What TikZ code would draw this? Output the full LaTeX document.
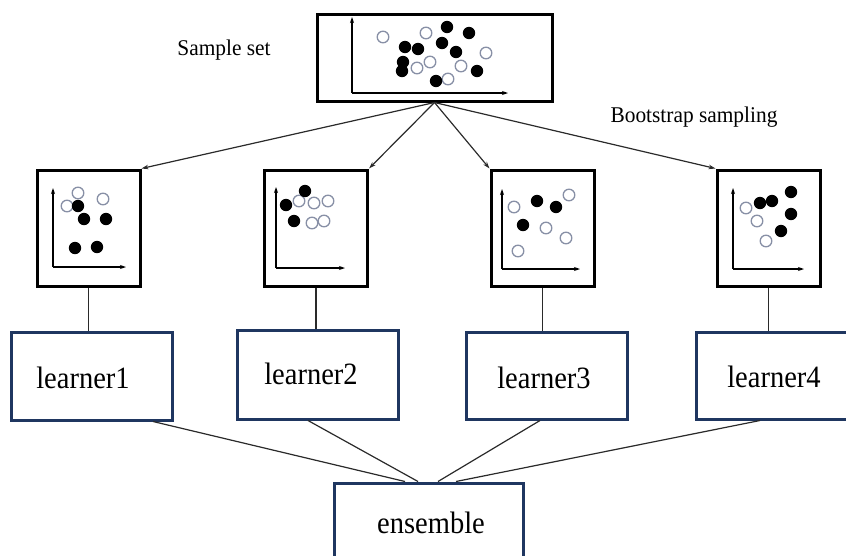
\documentclass[tikz,border=0pt]{standalone}
\usepackage{fontspec}
\setmainfont{Liberation Serif}
\newfontfamily\condserif[FakeStretch=0.92]{Liberation Serif}
\newfontfamily\semiserif[FakeStretch=0.95]{Liberation Serif}
\usetikzlibrary{arrows.meta,calc}
\definecolor{navy}{HTML}{1F3660}
\definecolor{ringc}{HTML}{8890A6}
\definecolor{linec}{HTML}{2A2A2A}
\begin{document}
\begin{tikzpicture}[x=1pt,y=-1pt,
  plotbox/.style={draw=black,line width=3pt,minimum width=103pt,minimum height=116pt,inner sep=0pt},
  topbox/.style={draw=black,line width=3pt,minimum width=235pt,minimum height=87pt,inner sep=0pt},
  learnbox/.style={draw=navy,line width=3pt,minimum width=161pt,minimum height=88pt,inner sep=0pt},
  bigtext/.style={font=\condserif\fontsize{31}{36}\selectfont,inner sep=0pt,anchor=base},
  smalltext/.style={font=\semiserif\fontsize{22.5}{27}\selectfont,inner sep=0pt,anchor=base},
  conn/.style={draw=linec,line width=1.2pt},
  axis/.style={draw=black,line width=1.1pt,-{Stealth[length=6pt,width=4pt]}},
  ring/.style={draw=ringc,line width=1.3pt},
  arr/.style={conn,-{Stealth[length=7pt,width=4.5pt]}}
]
\useasboundingbox (0,0) rectangle (846,555);

% boxes
\node[topbox] (top) at (434.5,57.5) {};
\node[plotbox] (b1) at (88.5,228) {};
\node[plotbox] (b2) at (316,228) {};
\node[plotbox] (b3) at (542.5,228) {};
\node[plotbox] (b4) at (768.5,228) {};
\node[learnbox] (L1) at (92,376) {};
\node[learnbox,minimum height=89pt] (L2) at (317.5,374.5) {};
\node[learnbox,minimum height=87pt] (L3) at (546.5,375.5) {};
\node[learnbox,minimum width=156pt,minimum height=87pt] (L4) at (774,375.5) {};
\node[learnbox,minimum width=189pt,minimum height=84pt] (E) at (428.5,525) {};

% texts
\node[smalltext] (ts) at (224,55) {Sample set};
\node[smalltext] (tb) at (694,122) {Bootstrap sampling};
\node[bigtext] (t1) at (83,388) {learner1};
\node[bigtext] (t2) at (311,384) {learner2};
\node[bigtext] (t3) at (544,388) {learner3};
\node[bigtext] (t4) at (774,387) {learner4};
\node[bigtext] (te) at (431,533) {ensemble};

% axes
\draw[axis] (352,93) -- (352,17);
\draw[axis] (352,93) -- (508,93);
\draw[axis] (53,267) -- (53,188);
\draw[axis] (53,267) -- (126,267);
\draw[axis] (276,268) -- (276,187);
\draw[axis] (276,268) -- (345,268);
\draw[axis] (502,269) -- (502,189);
\draw[axis] (502,269) -- (580,269);
\draw[axis] (733,269) -- (733,188);
\draw[axis] (733,269) -- (804,269);

% dots: sample set
\foreach \px/\py in {383/37,426/33,486/53,430/62,417/68,461/66,448/79}
  \draw[ring] (\px,\py) circle (5.8pt);
\foreach \px/\py in {447/27,469/33,405/47,418/49,442/43,456/52,403/62,402/71,477/71,436/81}
  \fill (\px,\py) circle (6.2pt);
% dots: box 1
\foreach \px/\py in {78/193,67/206,103/199}
  \draw[ring] (\px,\py) circle (5.8pt);
\foreach \px/\py in {78/206,84/219,106/219,75/248,97/247}
  \fill (\px,\py) circle (6.2pt);
% dots: box 2
\foreach \px/\py in {299/201,314/203,328/201,312/223,324/221}
  \draw[ring] (\px,\py) circle (5.8pt);
\foreach \px/\py in {305/191,286/205,294/221}
  \fill (\px,\py) circle (6.2pt);
% dots: box 3
\foreach \px/\py in {514/207,569/195,546/228,566/238,518/251}
  \draw[ring] (\px,\py) circle (5.8pt);
\foreach \px/\py in {537/201,556/207,523/225}
  \fill (\px,\py) circle (6.2pt);
% dots: box 4
\foreach \px/\py in {746/208,757/221,766/241}
  \draw[ring] (\px,\py) circle (5.8pt);
\foreach \px/\py in {760/203,772/201,791/192,791/214,781/231}
  \fill (\px,\py) circle (6.2pt);

% bootstrap arrows
\draw[arr] (top.south) -- (b1.north east);
\draw[arr] (top.south) -- (b2.north east);
\draw[arr] (top.south) -- (b3.north west);
\draw[arr] (top.south) -- (b4.north west);

% plot to learner
\draw[conn] (b1.south) -- (b1.south |- L1.north);
\draw[conn] (b2.south) -- (b2.south |- L2.north);
\draw[conn] (b3.south) -- (b3.south |- L3.north);
\draw[conn] (b4.south) -- (b4.south |- L4.north);

% learner to ensemble
\draw[conn] ($(L1.south)+(61,0)$) -- ($(E.north)+(-23.5,0)$);
\draw[conn] ($(L2.south)+(-9.5,0)$) -- ($(E.north)+(-10.5,0)$);
\draw[conn] ($(L3.south)+(-6.5,0)$) -- ($(E.north)+(9.5,0)$);
\draw[conn] ($(L4.south)+(-14,0)$) -- ($(E.north)+(27.5,0)$);
\end{tikzpicture}
\end{document}
